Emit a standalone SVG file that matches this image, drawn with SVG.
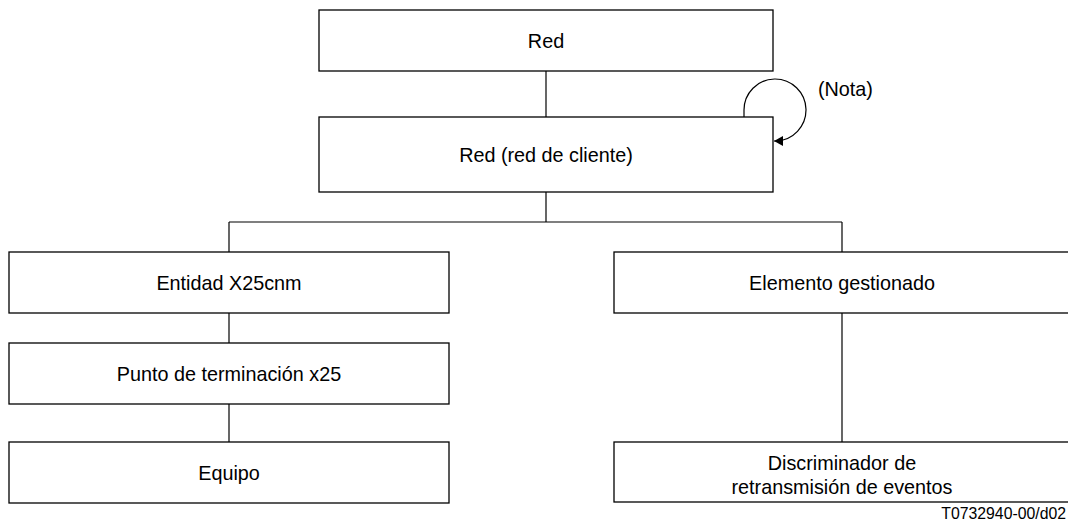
<svg xmlns="http://www.w3.org/2000/svg" width="1068" height="528" viewBox="0 0 1068 528">
<style>
.box{fill:#fff;stroke:#000;stroke-width:1.3}
.t{font-family:"Liberation Sans",Arial,sans-serif;font-size:19.8px;fill:#000;text-anchor:middle}
.c{fill:none;stroke:#000;stroke-width:1.2}
</style>
<defs>
<marker id="ah" markerUnits="userSpaceOnUse" markerWidth="10" markerHeight="10" refX="9" refY="5" orient="auto">
<path d="M0,0 L9,5 L0,10 z" fill="#000"/>
</marker>
</defs>
<rect width="1068" height="528" fill="#fff"/>
<g id="connectors">
<path class="c" d="M546,71 V117"/>
<path class="c" d="M546,192 V222"/>
<path class="c" d="M229,222 H842"/>
<path class="c" d="M229,222 V252"/>
<path class="c" d="M842,222 V252"/>
<path class="c" d="M229,313 V343"/>
<path class="c" d="M229,404 V442"/>
<path class="c" d="M842,313 V442"/>
<path class="c" d="M744,117 V110 A31,31 0 1 1 776,141 L774,141" marker-end="url(#ah)"/>
<text x="818" y="96" class="t" style="text-anchor:start">(Nota)</text>
</g>
<g id="n-red">
<rect class="box" x="319" y="10" width="454" height="61"/>
<text class="t" x="546" y="48">Red</text>
</g>
<g id="n-red-cliente">
<rect class="box" x="319" y="117" width="454" height="75"/>
<text class="t" x="546" y="162">Red (red de cliente)</text>
</g>
<g id="n-entidad">
<rect class="box" x="9" y="252" width="440" height="61"/>
<text class="t" x="229" y="290">Entidad X25cnm</text>
</g>
<g id="n-punto">
<rect class="box" x="9" y="343" width="440" height="61"/>
<text class="t" x="229" y="381">Punto de terminación x25</text>
</g>
<g id="n-equipo">
<rect class="box" x="9" y="442" width="440" height="61"/>
<text class="t" x="229" y="480">Equipo</text>
</g>
<g id="n-elemento">
<rect class="box" x="614" y="252" width="460" height="61"/>
<text class="t" x="842" y="290">Elemento gestionado</text>
</g>
<g id="n-discriminador">
<rect class="box" x="614" y="442" width="460" height="60"/>
<text class="t" x="842" y="469.5">Discriminador de</text>
<text class="t" x="842" y="493.5">retransmisión de eventos</text>
</g>
<text x="1066" y="519" style="font-family:'Liberation Sans',Arial,sans-serif;font-size:15.8px;text-anchor:end">T0732940-00/d02</text>
</svg>
